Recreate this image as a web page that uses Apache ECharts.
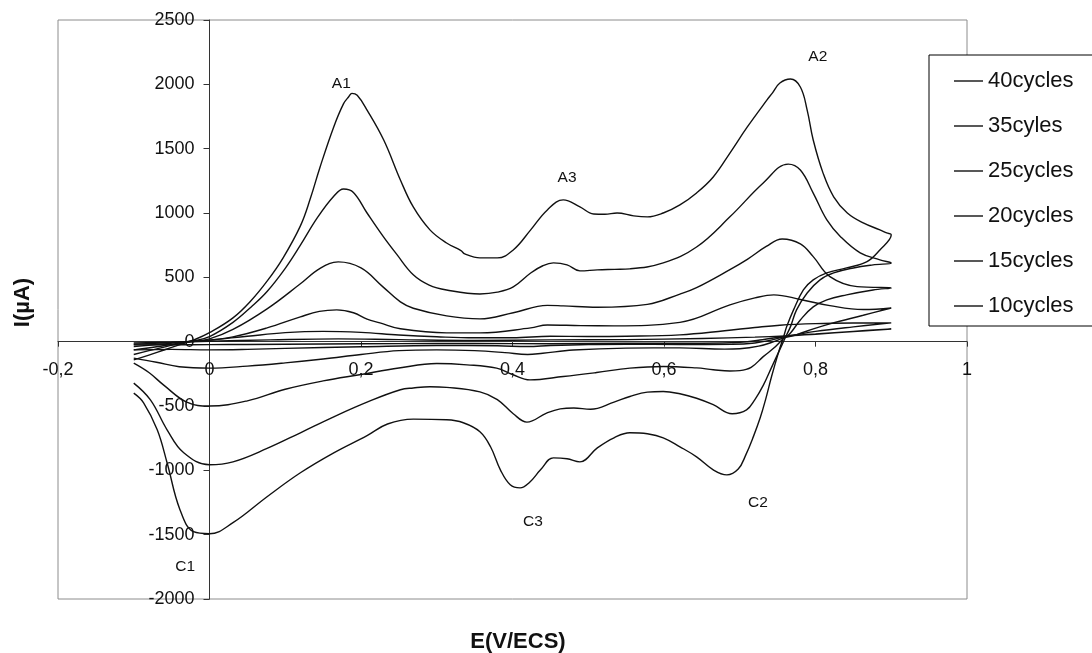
<!DOCTYPE html>
<html>
<head>
<meta charset="utf-8">
<title>Voltammogrammes cycliques</title>
<script src="https://cdn.jsdelivr.net/npm/echarts@6/dist/echarts.min.js"></script>
<style>
  html, body { margin: 0; padding: 0; background: #ffffff; }
  #chart { width: 1092px; height: 653px; }
</style>
</head>
<body>
<div id="chart"></div>
<script>
// Series names, in legend order
const cycleNames = ['40cycles', '35cyles', '25cycles', '20cycles', '15cycles', '10cycles'];

// Each curve: anodic sweep -0.1 -> 0.9 V, then cathodic sweep back to -0.1 V. Pairs are [E (V), I (µA)].
const cyc40 = [
  [-0.1,-142],[-0.08,-105],[-0.06,-65],[-0.04,-25],[-0.02,15],[0,70],[0.031,185],[0.055,320],[0.076,470],
  [0.097,650],[0.12,900],[0.133,1110],[0.146,1358],[0.164,1669],[0.177,1850],[0.184,1905],[0.188,1930],
  [0.195,1915],[0.208,1800],[0.23,1567],[0.252,1257],[0.269,1047],[0.291,869],[0.313,767],
  [0.332,708],[0.337,682],[0.357,651],[0.38,651],[0.401,713],[0.424,869],[0.446,1024],[0.467,1102],
  [0.489,1048],[0.507,992],[0.522,990],[0.538,1000],[0.56,978],[0.578,970],[0.599,1000],[0.621,1063],
  [0.643,1156],[0.665,1280],[0.687,1466],[0.71,1669],[0.736,1879],[0.743,1932],[0.753,2010],[0.767,2041],
  [0.78,1979],[0.789,1800],[0.797,1567],[0.81,1310],[0.824,1126],[0.842,1000],[0.863,923],[0.885,869],
  [0.894,845],[0.9,830],
  [0.885,713],[0.868,622],[0.841,573],[0.815,534],[0.797,480],[0.784,402],[0.771,247],[0.762,117],
  [0.758,40],[0.751,-87],[0.742,-271],[0.734,-452],[0.727,-592],[0.718,-738],[0.708,-880],[0.698,-990],
  [0.683,-1035],[0.665,-996],[0.643,-895],[0.621,-817],[0.599,-747],[0.578,-716],[0.555,-708],[0.534,-747],
  [0.512,-825],[0.489,-934],[0.472,-910],[0.454,-903],[0.437,-996],[0.423,-1090],[0.41,-1136],[0.397,-1112],
  [0.384,-996],[0.371,-817],[0.357,-700],[0.335,-630],[0.313,-607],[0.269,-602],[0.235,-640],[0.208,-730],
  [0.164,-864],[0.12,-1019],[0.076,-1205],[0.031,-1407],[0,-1493],[-0.021,-1477],[-0.039,-1306],
  [-0.056,-941],[-0.069,-685],[-0.087,-475],[-0.1,-400]
];

const cyc35 = [
  [-0.1,-100],[-0.08,-70],[-0.06,-42],[-0.04,-15],[-0.025,0],[0,40],[0.031,150],[0.055,270],[0.076,390],
  [0.1,570],[0.12,750],[0.142,960],[0.164,1130],[0.177,1187],[0.19,1160],[0.208,1000],[0.229,820],
  [0.247,680],[0.269,520],[0.29,440],[0.313,402],[0.357,371],[0.38,385],[0.401,426],[0.424,534],
  [0.44,590],[0.454,612],[0.472,597],[0.489,550],[0.512,558],[0.535,562],[0.555,566],[0.599,612],
  [0.643,736],[0.687,970],[0.731,1233],[0.764,1380],[0.78,1334],[0.797,1155],[0.815,946],[0.833,816],
  [0.859,690],[0.885,636],[0.9,612],
  [0.876,597],[0.85,573],[0.824,534],[0.806,480],[0.789,378],[0.775,247],[0.767,117],[0.76,30],
  [0.753,-60],[0.742,-200],[0.731,-340],[0.72,-450],[0.709,-530],[0.69,-560],[0.665,-490],[0.643,-440],
  [0.621,-405],[0.599,-387],[0.578,-392],[0.555,-426],[0.534,-470],[0.503,-525],[0.481,-515],[0.463,-522],
  [0.445,-555],[0.419,-625],[0.401,-560],[0.38,-450],[0.357,-390],[0.313,-355],[0.291,-350],[0.269,-360],
  [0.252,-374],[0.208,-470],[0.164,-584],[0.12,-708],[0.076,-830],[0.031,-934],[0,-957],[-0.034,-864],
  [-0.056,-685],[-0.078,-452],[-0.1,-322]
];

const cyc25 = [
  [-0.1,-64],[-0.07,-40],[-0.045,-15],[-0.025,0],[0,22],[0.031,95],[0.076,255],[0.12,450],[0.146,570],
  [0.17,620],[0.2,573],[0.229,426],[0.252,309],[0.269,260],[0.313,200],[0.357,177],[0.401,225],
  [0.446,282],[0.467,278],[0.512,268],[0.578,290],[0.621,370],[0.643,420],[0.687,560],[0.71,640],
  [0.735,740],[0.756,798],[0.78,760],[0.797,661],[0.819,506],[0.855,428],[0.9,418],
  [0.876,402],[0.841,364],[0.815,325],[0.797,270],[0.78,169],[0.767,68],[0.757,20],[0.745,-50],
  [0.731,-116],[0.715,-200],[0.7,-225],[0.687,-228],[0.665,-218],[0.643,-204],[0.599,-193],[0.555,-206],
  [0.511,-240],[0.467,-271],[0.423,-297],[0.4,-255],[0.379,-206],[0.34,-180],[0.3,-170],[0.25,-205],
  [0.2,-255],[0.15,-305],[0.1,-370],[0.05,-460],[0,-500],[-0.03,-470],[-0.06,-340],[-0.08,-240],[-0.1,-167]
];

const cyc20 = [
  [-0.1,-38],[-0.06,-18],[-0.03,0],[0,12],[0.031,37],[0.076,107],[0.12,193],[0.145,235],[0.168,247],
  [0.19,225],[0.208,175],[0.225,146],[0.252,100],[0.313,68],[0.357,68],[0.424,107],[0.446,130],
  [0.49,125],[0.534,123],[0.621,150],[0.687,286],[0.72,340],[0.745,364],[0.78,328],[0.819,280],
  [0.863,250],[0.9,262],
  [0.863,205],[0.82,140],[0.79,85],[0.77,45],[0.758,30],[0.745,0],[0.725,-35],[0.7,-55],[0.68,-58],
  [0.621,-48],[0.55,-50],[0.48,-65],[0.44,-90],[0.42,-100],[0.39,-85],[0.35,-70],[0.3,-64],[0.25,-70],
  [0.2,-100],[0.15,-135],[0.1,-165],[0.05,-190],[0,-206],[-0.04,-195],[-0.07,-160],[-0.1,-128]
];

const cyc15 = [
  [-0.1,-20],[-0.06,-10],[-0.03,0],[0,12],[0.05,42],[0.1,70],[0.15,80],[0.2,72],[0.25,52],[0.3,38],
  [0.35,30],[0.4,30],[0.45,42],[0.5,40],[0.55,42],[0.621,53],[0.68,85],[0.72,110],[0.753,128],
  [0.8,140],[0.85,145],[0.9,146],
  [0.85,115],[0.8,80],[0.775,55],[0.758,38],[0.74,10],[0.72,-10],[0.69,-20],[0.621,-22],[0.55,-20],
  [0.5,-22],[0.45,-30],[0.42,-38],[0.38,-32],[0.3,-30],[0.2,-40],[0.1,-52],[0.05,-60],[0,-64],
  [-0.05,-60],[-0.1,-64]
];

const cyc10 = [
  [-0.1,-10],[-0.05,-4],[0,3],[0.08,14],[0.17,22],[0.25,16],[0.35,10],[0.45,14],[0.55,16],[0.65,25],
  [0.72,35],[0.76,45],[0.8,60],[0.85,80],[0.9,99],
  [0.85,78],[0.8,58],[0.758,40],[0.73,15],[0.7,-5],[0.65,-12],[0.55,-12],[0.45,-16],[0.35,-14],
  [0.25,-15],[0.15,-18],[0.05,-22],[0,-23],[-0.05,-24],[-0.1,-25]
];

const cycleData = [cyc40, cyc35, cyc25, cyc20, cyc15, cyc10];

// Peak labels (anodic A1-A3, cathodic C1-C3), placed in data coordinates
const peakNames = ['A1', 'A2', 'A3', 'C1', 'C2', 'C3'];
const peakE = [0.174, 0.803, 0.472, -0.032, 0.724, 0.427];
const peakI = [2003, 2212, 1272, -1750, -1252, -1400];

// Axis ranges and tick steps
const eRange = [-0.2, 1.0, 0.2];
const iRange = [-2000, 2500, 500];

const FONT = "'Liberation Sans', Arial, sans-serif";
const AXIS_COLOR = '#333333';

// Plot box
const GRID = { left: 58, top: 20, width: 909, height: 579 };

// Both axes cross at the origin: shift each one from the grid edge to the zero of the other scale
const yAxisShift = -GRID.width * (0 - eRange[0]) / (eRange[1] - eRange[0]);
const xAxisShift = -GRID.height * (0 - iRange[0]) / (iRange[1] - iRange[0]);

const chart = echarts.init(document.getElementById('chart'), null, { renderer: 'canvas' });

const curveSeries = cycleNames.map((name, k) => ({
  name: name,
  type: 'line',
  data: cycleData[k],
  showSymbol: false,
  symbol: 'none',
  smooth: 0.4,
  lineStyle: { color: '#111111', width: 1.4 },
  itemStyle: { color: '#111111' },
  emphasis: { disabled: true },
  animation: false,
  z: 3
}));

const tagSeries = {
  name: 'tags',
  type: 'scatter',
  data: peakNames.map((t, k) => ({ name: t, value: [peakE[k], peakI[k]] })),
  symbolSize: 0,
  silent: true,
  animation: false,
  itemStyle: { opacity: 1, color: '#111111' },
  label: {
    show: true,
    position: 'inside',
    formatter: p => p.name,
    color: '#111111',
    opacity: 1,
    textBorderWidth: 0,
    fontFamily: FONT,
    fontSize: 15.5
  },
  z: 4
};

const option = {
  backgroundColor: '#ffffff',
  animation: false,
  textStyle: { fontFamily: FONT },
  grid: {
    left: GRID.left, top: GRID.top, width: GRID.width, height: GRID.height,
    containLabel: false,
    outerBoundsMode: 'none',
    show: true, borderColor: '#8c8c8c', borderWidth: 1, backgroundColor: '#ffffff'
  },
  legend: {
    data: cycleNames,
    orient: 'vertical',
    left: 929,
    top: 55,
    padding: [14, 40, 8, 25],
    itemGap: 21,
    itemWidth: 29,
    itemHeight: 14,
    icon: 'path://M0,6.3H29V7.7H0Z',
    itemStyle: { color: '#111111' },
    backgroundColor: '#ffffff',
    borderColor: '#000000',
    borderWidth: 1,
    borderRadius: 0,
    selectedMode: false,
    textStyle: { fontFamily: FONT, fontSize: 22, color: '#111111', lineHeight: 24 }
  },
  xAxis: {
    type: 'value',
    position: 'bottom',
    offset: xAxisShift,
    min: eRange[0], max: eRange[1], interval: eRange[2],
    name: 'E(V/ECS)',
    nameLocation: 'middle',
    nameGap: 289,
    nameTextStyle: { fontFamily: FONT, fontSize: 22, fontWeight: 'bold', color: '#111111', padding: [0, 0, 0, 11] },
    axisLine: { onZero: false, lineStyle: { color: AXIS_COLOR, width: 1 } },
    axisTick: { show: true, length: 5, lineStyle: { color: AXIS_COLOR } },
    axisLabel: {
      margin: 19,
      fontFamily: FONT, fontSize: 18, color: '#111111',
      showMinLabel: true, showMaxLabel: true,
      formatter: v => String(Number(v.toFixed(1))).replace('.', ',')
    },
    splitLine: { show: false }
  },
  yAxis: {
    type: 'value',
    position: 'left',
    offset: yAxisShift,
    min: iRange[0], max: iRange[1], interval: iRange[2],
    name: 'I(µA)',
    nameLocation: 'middle',
    nameGap: 176,
    nameTextStyle: { fontFamily: FONT, fontSize: 22, fontWeight: 'bold', color: '#111111', padding: [0, 0, 0, 14] },
    axisLine: { onZero: false, lineStyle: { color: AXIS_COLOR, width: 1 } },
    axisTick: { show: true, length: 6, lineStyle: { color: AXIS_COLOR } },
    axisLabel: {
      margin: 15,
      fontFamily: FONT, fontSize: 18, color: '#111111',
      formatter: v => String(v)
    },
    splitLine: { show: false }
  },
  series: curveSeries.concat([tagSeries])
};

chart.setOption(option);
</script>
</body>
</html>
